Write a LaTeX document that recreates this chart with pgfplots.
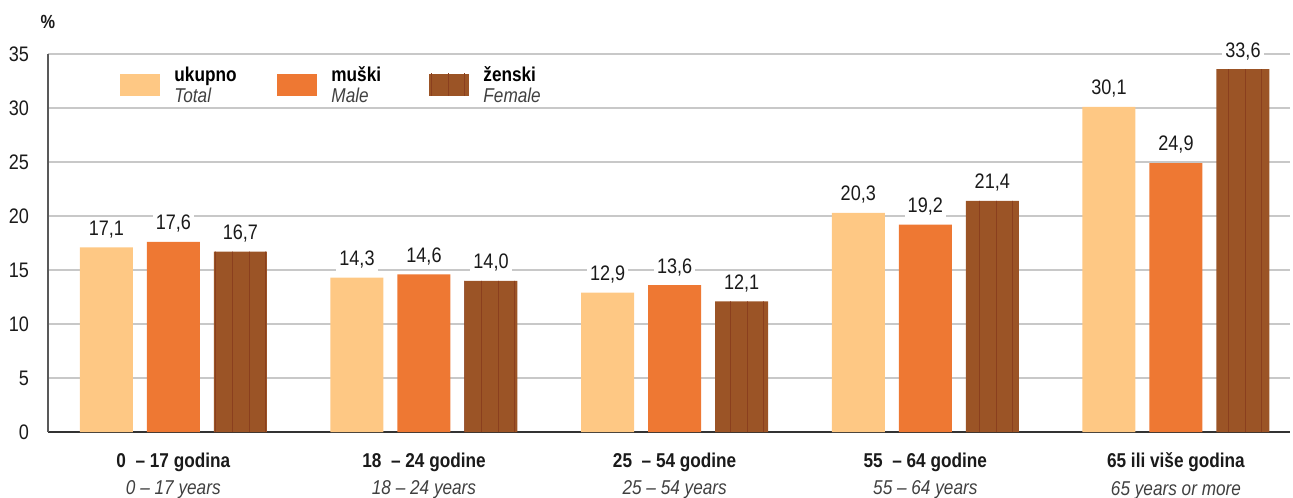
\documentclass[border=0pt]{standalone}
\usepackage{fontspec}
\setmainfont{Liberation Sans}[FakeStretch=0.86]
\usepackage{pgfplots}
\pgfplotsset{compat=1.18}
\usetikzlibrary{patterns.meta}

\definecolor{cTotal}{HTML}{FEC884}
\definecolor{cMale}{HTML}{EE7833}
\definecolor{cFemale}{HTML}{9B5426}
\definecolor{cStripe}{HTML}{8A3F1E}
\definecolor{cGrid}{HTML}{C8C8C8}
\definecolor{cText}{HTML}{1A1A1A}

\pgfplotstableread{
x total male female
0 17.1 17.6 16.7
1 14.3 14.6 14.0
2 12.9 13.6 12.1
3 20.3 19.2 21.4
4 30.1 24.9 33.6
}\agedata

\begin{document}
\begin{tikzpicture}
% 1 px of the reference = 0.5pt
\useasboundingbox (-24pt,-32.5pt) rectangle (622.5pt,216pt);
\begin{axis}[
    at={(0pt,0pt)}, anchor=south west,
    scale only axis, width=621pt, height=189pt,
    ybar, bar width=26.5pt,
    xmin=-0.5, xmax=4.455, ymin=0, ymax=35,
    ytick={0,5,...,35},
    xtick={0,...,4},
    xticklabels={
      {\textbf{0~~– 17 godina}\\\textit{\color{black!75}0 – 17 years}},
      {\textbf{18~~– 24 godine}\\\textit{\color{black!75}18 – 24 years}},
      {\textbf{25~~– 54 godine}\\\textit{\color{black!75}25 – 54 years}},
      {\textbf{55~~– 64 godine}\\\textit{\color{black!75}55 – 64 years}},
      {\textbf{65 ili više godina}\\\textit{\color{black!75}65 years or more}}},
    xticklabel style={align=center, font=\fontsize{10}{13.5}\selectfont, text=cText, yshift=-7pt},
    yticklabel style={font=\fontsize{10.5}{12}\selectfont, text=cText, xshift=-6pt},
    /pgf/number format/assume math mode=true,
    major tick length=0pt,
    axis x line=bottom, axis y line=left,
    x axis line style={-, draw=black!80, line width=1pt},
    y axis line style={-, draw=black!65, line width=0.8pt},
    ymajorgrids, grid style={cGrid, line width=0.8pt},
    clip=false,
    nodes near coords={\pgfmathprintnumber[use comma,fixed,fixed zerofill,precision=1,assume math mode=true]{\pgfplotspointmeta}},
    nodes near coords style={font=\fontsize{10.5}{12}\selectfont, text=cText, fill=white, inner sep=1.5pt, anchor=south, yshift=3pt},
    legend columns=3,
    legend style={at={(0.058,0.968)}, anchor=north west, draw=none, fill=none, inner sep=0pt,
      nodes={inner sep=0pt, anchor=west},
      /tikz/every even column/.append style={column sep=10pt},
      font=\fontsize{10}{10.5}\selectfont},
    legend image code/.code={\fill[#1] (0pt,-5.5pt) rectangle (20pt,5.5pt); \path (27pt,0pt);},
]
\addplot[draw=none, fill=cTotal, bar shift=-33.5pt] table[x=x, y=total] {\agedata};
\addplot[draw=none, fill=cMale, bar shift=0pt] table[x=x, y=male] {\agedata};
\addplot[draw=none, fill=cFemale, bar shift=33.5pt,
    postaction={pattern={Lines[angle=90,distance=8.3pt,line width=0.45pt]}, pattern color=cStripe}]
    table[x=x, y=female] {\agedata};
\legend{\raisebox{5pt}{\parbox{41.5pt}{\textbf{ukupno}\\\textit{\color{black!75}Total}}},
        \raisebox{5pt}{\parbox{39pt}{\textbf{muški}\\\textit{\color{black!75}Male}}},
        \raisebox{5pt}{\parbox{40pt}{\textbf{ženski}\\\textit{\color{black!75}Female}}}}
\end{axis}
\node[font=\fontsize{9.5}{11}\selectfont\bfseries, text=cText] at (0pt,205pt) {\%};
\end{tikzpicture}
\end{document}
